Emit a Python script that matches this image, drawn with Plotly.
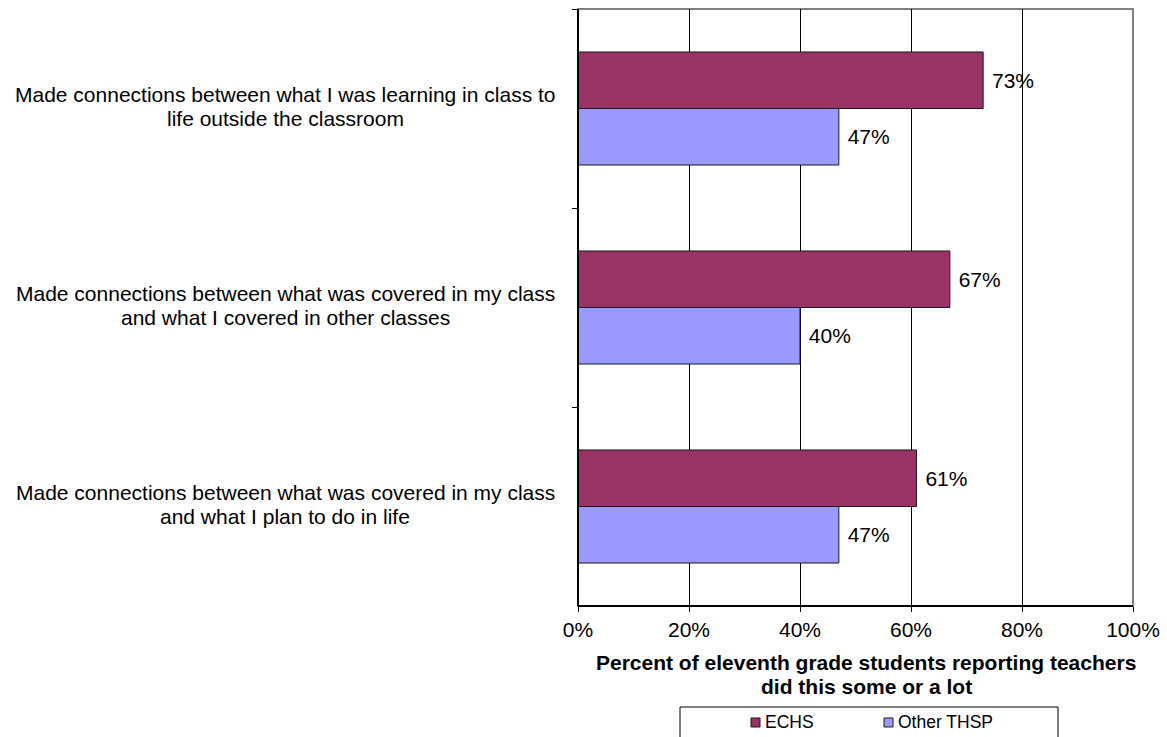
import plotly.graph_objects as go

# Survey items (top to bottom) and percentages per group
categories = [
    "Made connections between what I was learning in class to<br>life outside the classroom",
    "Made connections between what was covered in my class<br>and what I covered in other classes",
    "Made connections between what was covered in my class<br>and what I plan to do in life",
]
series_names = ["ECHS", "Other THSP"]
echs = [73, 67, 61]
other_thsp = [47, 40, 47]
x_ticks = [0, 20, 40, 60, 80, 100]
x_tick_labels = ["0%", "20%", "40%", "60%", "80%", "100%"]
x_title_lines = ["Percent of eleventh grade students reporting teachers",
                 "did this some or a lot"]
colors = ["#993366", "#9999FF"]

W, H = 1167, 737
L, R, T, B = 578, 34, 9, 131
plot_w = W - L - R
plot_h = H - T - B

def px_x(px):
    return (px - L) / plot_w

def px_y(py):
    return (H - B - py) / plot_h

FONT = "Liberation Sans, Arial, sans-serif"
FS = 21
LINE = 24  # line spacing for wrapped labels

fig = go.Figure()
for name, vals, col in zip(series_names, [echs, other_thsp], colors):
    fig.add_trace(go.Bar(
        y=categories, x=vals, orientation="h", name=name,
        marker=dict(color=col, line=dict(color="#1a1a1a", width=1)),
        text=[f"\u00a0{v}%" for v in vals], textposition="outside",
        textfont=dict(size=FS, color="black", family=FONT), cliponaxis=False,
        showlegend=False,
    ))

# Category labels, centred to the left of the plot, one annotation per line
for c in categories:
    lines = c.split("<br>")
    n = len(lines)
    for i, ln in enumerate(lines):
        fig.add_annotation(
            x=px_x(285), xref="paper", y=c, yref="y", text=ln, showarrow=False,
            xanchor="center", yanchor="middle", align="center",
            yshift=((n - 1) / 2 - i) * LINE + 2,
            font=dict(size=FS, color="black", family=FONT),
        )

# Axis title, bold, two lines
for i, ln in enumerate(x_title_lines):
    fig.add_annotation(
        x=px_x(866), xref="paper", y=px_y(662 + i * LINE), yref="paper",
        text=f"<b>{ln}</b>", showarrow=False, xanchor="center", yanchor="middle",
        font=dict(size=FS, color="black", family=FONT),
    )

shapes = [
    # plot frame (grey top/right)
    dict(type="rect", xref="paper", yref="paper", x0=0, x1=1, y0=0, y1=1,
         line=dict(color="#808080", width=2), layer="below"),
    # black left and bottom axes
    dict(type="line", xref="paper", yref="paper", x0=0, x1=0, y0=0, y1=1,
         line=dict(color="black", width=2)),
    dict(type="line", xref="paper", yref="paper", x0=0, x1=1, y0=0, y1=0,
         line=dict(color="black", width=2)),
    # legend box
    dict(type="rect", xref="paper", yref="paper",
         x0=px_x(680), x1=px_x(1058), y0=px_y(707), y1=px_y(745),
         line=dict(color="black", width=1), fillcolor="white", layer="below"),
]

# legend entries: small swatch followed by the series name
legend_x = [751, 884]
for name, col, lx in zip(series_names, colors, legend_x):
    shapes.append(dict(type="rect", xref="paper", yref="paper",
                       x0=px_x(lx), x1=px_x(lx + 9), y0=px_y(727), y1=px_y(718),
                       line=dict(color="#1a1a1a", width=1), fillcolor=col))
    fig.add_annotation(x=px_x(lx + 12), xref="paper", y=px_y(722), yref="paper",
                       text=name, showarrow=False, xanchor="left", yanchor="middle",
                       font=dict(size=17.5, color="black", family=FONT))

fig.update_layout(
    width=W, height=H,
    margin=dict(l=L, r=R, t=T, b=B, pad=0),
    paper_bgcolor="white", plot_bgcolor="white",
    barmode="group", bargap=0.432, bargroupgap=0,
    font=dict(family=FONT, size=FS, color="black"),
    shapes=shapes,
    showlegend=False,
    xaxis=dict(
        range=[0, 100], tickmode="array", tickvals=x_ticks, ticktext=x_tick_labels,
        showgrid=True, gridcolor="black", gridwidth=1,
        ticks="outside", ticklen=5, tickcolor="black",
        showline=False, zeroline=False, automargin=False,
        tickfont=dict(size=FS, family=FONT, color="black"),
    ),
    yaxis=dict(
        categoryorder="array", categoryarray=categories, autorange="reversed",
        showticklabels=False, ticks="outside", tickson="boundaries",
        ticklen=5, tickcolor="black", showgrid=False, showline=False, zeroline=False,
        automargin=False,
    ),
)

fig.write_html("out.html")
